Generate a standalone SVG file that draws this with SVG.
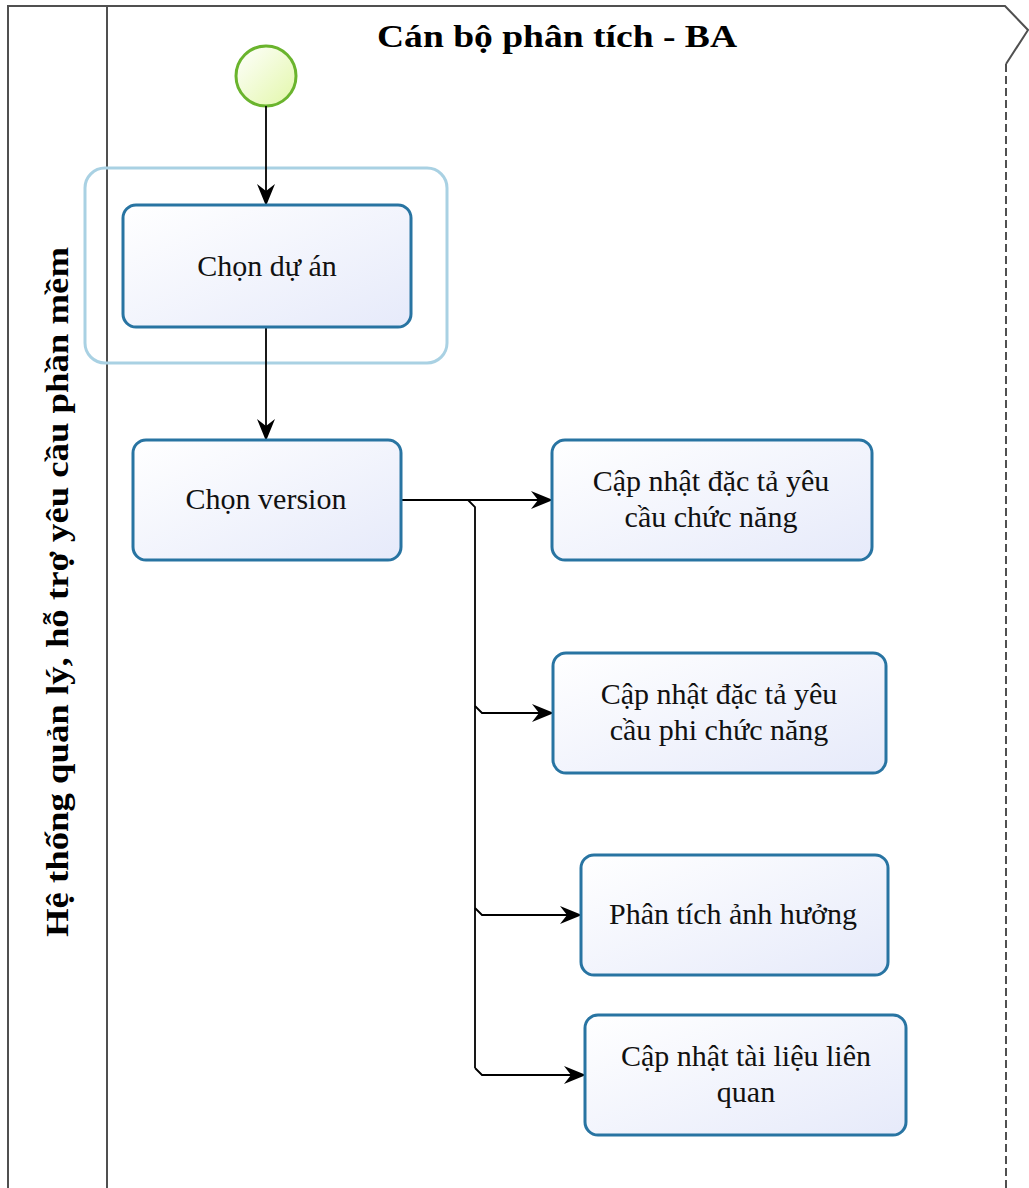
<svg xmlns="http://www.w3.org/2000/svg" width="1029" height="1188" viewBox="0 0 1029 1188">
<defs>
<linearGradient id="boxGrad" x1="0" y1="0" x2="1" y2="1">
<stop offset="0" stop-color="#ffffff"/>
<stop offset="1" stop-color="#e6eafa"/>
</linearGradient>
<linearGradient id="startGrad" x1="0" y1="0" x2="1" y2="1">
<stop offset="0" stop-color="#ffffff"/>
<stop offset="1" stop-color="#e2f7a8"/>
</linearGradient>
<marker id="arrow" viewBox="0 0 22 18" refX="21" refY="9" markerWidth="22" markerHeight="18" markerUnits="userSpaceOnUse" orient="auto">
<path d="M0,0 L22,9 L0,18 L7,9 Z" fill="#000"/>
</marker>
</defs>
<style>
.frame{fill:none;stroke:#505050;stroke-width:2}
.task{fill:url(#boxGrad);stroke:#2874a2;stroke-width:3}
.lbl{font-family:"Liberation Serif","Times New Roman",serif;font-size:30px;fill:#111;text-anchor:middle}
.head{font-family:"Liberation Serif","Times New Roman",serif;font-size:32px;font-weight:bold;fill:#000;text-anchor:middle}
.conn{fill:none;stroke:#000;stroke-width:1.8}
</style>
<rect width="1029" height="1188" fill="#ffffff"/>
<g id="pool">
<path class="frame" d="M8,1188 V6 H1005 L1028,30 L1006,64"/>
<line x1="1006" y1="64" x2="1006" y2="1188" stroke="#505050" stroke-width="2" stroke-dasharray="8,4"/>
<line class="frame" x1="107" y1="6" x2="107" y2="1188"/>
<text class="head" x="557" y="47" textLength="360" lengthAdjust="spacingAndGlyphs">Cán bộ phân tích - BA</text>
<text class="head" transform="translate(68,592) rotate(-90)" textLength="690" lengthAdjust="spacingAndGlyphs">Hệ thống quản lý, hỗ trợ yêu cầu phần mềm</text>
</g>
<g id="highlight">
<rect x="85" y="168" width="362" height="195" rx="20" fill="none" stroke="#a9d1e3" stroke-width="3"/>
</g>
<g id="start">
<circle cx="266" cy="76" r="30" fill="url(#startGrad)" stroke="#6ab42d" stroke-width="3"/>
</g>
<g id="connectors">
<line class="conn" x1="266" y1="106" x2="266" y2="205" marker-end="url(#arrow)"/>
<line class="conn" x1="266" y1="327" x2="266" y2="440" marker-end="url(#arrow)"/>
<line class="conn" x1="401" y1="500" x2="552" y2="500" marker-end="url(#arrow)"/>
<path class="conn" d="M468,500 L475,507 V1068" stroke-width="2.5"/>
<path class="conn" d="M475,706 L482,713 H553" marker-end="url(#arrow)"/>
<path class="conn" d="M475,908 L482,915 H581" marker-end="url(#arrow)"/>
<path class="conn" d="M475,1068 L482,1075 H585" marker-end="url(#arrow)"/>
</g>
<g id="chon-du-an">
<rect class="task" x="123" y="205" width="288" height="122" rx="13"/>
<text class="lbl" x="267" y="276">Chọn dự án</text>
</g>
<g id="chon-version">
<rect class="task" x="133" y="440" width="268" height="120" rx="13"/>
<text class="lbl" x="266" y="509">Chọn version</text>
</g>
<g id="cap-nhat-chuc-nang">
<rect class="task" x="552" y="440" width="320" height="120" rx="13"/>
<text class="lbl" x="711" y="491">Cập nhật đặc tả yêu</text>
<text class="lbl" x="711" y="527">cầu chức năng</text>
</g>
<g id="cap-nhat-phi-chuc-nang">
<rect class="task" x="553" y="653" width="333" height="120" rx="13"/>
<text class="lbl" x="719" y="704">Cập nhật đặc tả yêu</text>
<text class="lbl" x="719" y="740">cầu phi chức năng</text>
</g>
<g id="phan-tich-anh-huong">
<rect class="task" x="581" y="855" width="307" height="120" rx="13"/>
<text class="lbl" x="733" y="924">Phân tích ảnh hưởng</text>
</g>
<g id="cap-nhat-tai-lieu">
<rect class="task" x="585" y="1015" width="321" height="120" rx="13"/>
<text class="lbl" x="746" y="1066">Cập nhật tài liệu liên</text>
<text class="lbl" x="746" y="1102">quan</text>
</g>
</svg>
